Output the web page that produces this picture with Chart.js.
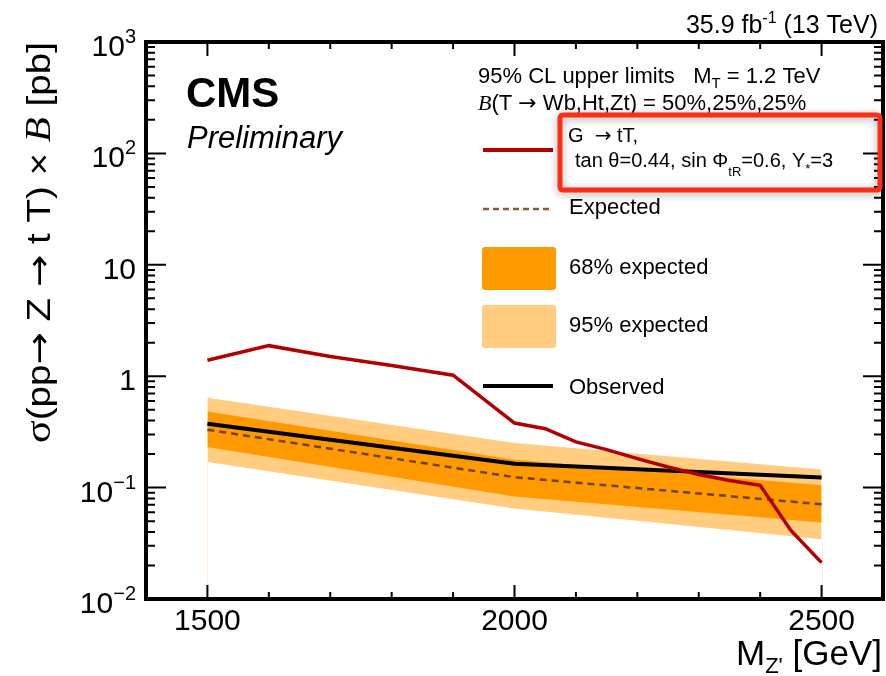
<!DOCTYPE html>
<html>
<head>
<meta charset="utf-8">
<script src="https://cdn.jsdelivr.net/npm/chart.js@4.4.1/dist/chart.umd.min.js"></script>
<style>
  html, body { margin: 0; padding: 0; background: #fff; }
  #wrap { width: 886px; height: 676px; }
</style>
</head>
<body>
<div id="wrap"><canvas id="limitChart"></canvas></div>
<script>
// Z' mass points with limits (pb)
const massPoints = [1500, 2000, 2500];
const observed   = [0.375, 0.164, 0.123];
const expected   = [0.331, 0.124, 0.0708];
const band68Up   = [0.481, 0.178, 0.105];
const band68Down = [0.231, 0.0834, 0.0486];
const band95Up   = [0.642, 0.251, 0.145];
const band95Down = [0.170, 0.065, 0.0344];

// signal cross section for the benchmark model
const theoryMass = [1500, 1600, 1700, 1800, 1900, 2000, 2050, 2100, 2150, 2200, 2250, 2300, 2350, 2400, 2450, 2500];
const theoryXsec = [1.39, 1.88, 1.50, 1.25, 1.02, 0.380, 0.338, 0.257, 0.219, 0.182, 0.153, 0.131, 0.116, 0.105, 0.0413, 0.0212];

const xTickLabels = [1500, 2000, 2500];
const yTickValues = [0.01, 0.1, 1, 10, 100, 1000];
const yTickLabels = [["10", "\u22122"], ["10", "\u22121"], ["1", ""], ["10", ""], ["10", "2"], ["10", "3"]];

const SANS = '"Liberation Sans", Arial, Helvetica, sans-serif';
const SERIF = '"Liberation Serif", "Times New Roman", serif';
const ARROW = '"DejaVu Sans", sans-serif';

const RED = "#b00000";
const ORANGE = "#ff9900";
const LIGHT_ORANGE = "#ffcc80";
const BROWN = "#6b4420";

const toXY = (xs, ys) => xs.map((x, i) => ({ x, y: ys[i] }));
const band = (ys, color, fill, order) => ({
  data: toXY(massPoints, ys),
  borderColor: "transparent",
  borderWidth: 0,
  backgroundColor: color,
  pointRadius: 0,
  fill,
  order,
});

function richWidth(ctx, parts) {
  let w = 0;
  for (const p of parts) {
    ctx.font = p.font;
    w += ctx.measureText(p.text).width;
  }
  return w;
}

// draws a run of differently styled pieces; fitWidth stretches the run to a length
function drawRich(ctx, parts, x, y, align, fitWidth) {
  let w = richWidth(ctx, parts);
  ctx.save();
  ctx.translate(x, y);
  if (fitWidth) {
    ctx.scale(fitWidth / w, 1);
  }
  let cx = align === "right" ? -w : align === "center" ? -w / 2 : 0;
  ctx.textAlign = "left";
  ctx.textBaseline = "alphabetic";
  for (const p of parts) {
    ctx.font = p.font;
    ctx.fillText(p.text, cx, p.dy || 0);
    cx += ctx.measureText(p.text).width;
  }
  ctx.restore();
}

const decor = {
  id: "cmsDecor",
  afterDatasetsDraw(chart) {
    const { ctx, scales: { x, y } } = chart;
    // thin edges of the band polygon down to the axis
    ctx.save();
    ctx.strokeStyle = "rgba(255, 204, 128, 0.35)";
    ctx.lineWidth = 1;
    [0, massPoints.length - 1].forEach((i) => {
      const px = Math.round(x.getPixelForValue(massPoints[i])) + 0.5;
      ctx.beginPath();
      ctx.moveTo(px, y.getPixelForValue(band95Down[i]));
      ctx.lineTo(px, y.bottom);
      ctx.stroke();
    });
    ctx.restore();
  },
  afterDraw(chart) {
    const { ctx, chartArea: a, scales: { x, y } } = chart;
    ctx.save();
    ctx.fillStyle = "#000";
    ctx.strokeStyle = "#000";

    // ticks on all four sides, pointing inwards
    ctx.lineWidth = 2;
    for (let m = 1500; m <= 2500; m += 100) {
      const px = x.getPixelForValue(m);
      const len = m % 500 === 0 ? 14 : 7;
      ctx.beginPath();
      ctx.moveTo(px, a.bottom); ctx.lineTo(px, a.bottom - len);
      ctx.moveTo(px, a.top); ctx.lineTo(px, a.top + len);
      ctx.stroke();
    }
    for (let d = 0.01; d < 1000; d *= 10) {
      for (let k = 1; k <= 9; k++) {
        const py = y.getPixelForValue(d * k);
        const len = k === 1 ? 20 : 9;
        ctx.beginPath();
        ctx.moveTo(a.left, py); ctx.lineTo(a.left + len, py);
        ctx.moveTo(a.right, py); ctx.lineTo(a.right - len, py);
        ctx.stroke();
      }
    }

    // frame
    ctx.lineWidth = 4;
    ctx.strokeRect(a.left, a.top, a.right - a.left, a.bottom - a.top);

    // tick labels
    xTickLabels.forEach((m) => {
      drawRich(ctx, [{ text: String(m), font: `30px ${SANS}` }], x.getPixelForValue(m), 630, "center");
    });
    yTickValues.forEach((v, i) => {
      const [base, exp] = yTickLabels[i];
      const parts = [{ text: base, font: `30px ${SANS}` }];
      if (exp) parts.push({ text: exp, font: `20px ${SANS}`, dy: -13 });
      drawRich(ctx, parts, 136, y.getPixelForValue(v) + 14, "right");
    });

    // axis titles
    drawRich(ctx, [
      { text: "M", font: `35px ${SANS}` },
      { text: "Z'", font: `22px ${SANS}`, dy: 8 },
      { text: " [GeV]", font: `35px ${SANS}` },
    ], 882, 665, "right");

    const yt = `33px ${SANS}`;
    const ya = `33px ${ARROW}`;
    ctx.save();
    ctx.translate(50, 42);
    ctx.rotate(-Math.PI / 2);
    drawRich(ctx, [
      { text: "\u03c3", font: `36px ${SERIF}` },
      { text: "(pp", font: yt },
      { text: "\u2192", font: ya },
      { text: " Z ", font: yt },
      { text: "\u2192", font: ya },
      { text: " t T) \u00d7 ", font: yt },
      { text: "B", font: `italic 35px ${SERIF}` },
      { text: " [pb]", font: yt },
    ], 0, 0, "right", 401);
    ctx.restore();

    // labels inside the frame
    drawRich(ctx, [{ text: "CMS", font: `bold 42px ${SANS}` }], 186, 107, "left");
    drawRich(ctx, [{ text: "Preliminary", font: `italic 31px ${SANS}` }], 187, 148, "left");
    drawRich(ctx, [
      { text: "35.9 fb", font: `25px ${SANS}` },
      { text: "-1", font: `16px ${SANS}`, dy: -10 },
      { text: " (13 TeV)", font: `25px ${SANS}` },
    ], 878, 33, "right");

    // legend
    const lf = `22px ${SANS}`;
    drawRich(ctx, [
      { text: "95% CL upper limits   M", font: lf },
      { text: "T", font: `15px ${SANS}`, dy: 5 },
      { text: " = 1.2 TeV", font: lf },
    ], 478, 83, "left");
    drawRich(ctx, [
      { text: "B", font: `italic 22px ${SERIF}` },
      { text: "(T ", font: lf },
      { text: "\u2192", font: `22px ${ARROW}` },
      { text: " Wb,Ht,Zt) = 50%,25%,25%", font: lf },
    ], 478, 110, "left");

    const legendLine = (py, color, width, dash) => {
      ctx.save();
      ctx.strokeStyle = color;
      ctx.lineWidth = width;
      ctx.setLineDash(dash || []);
      ctx.beginPath();
      ctx.moveTo(483, py); ctx.lineTo(553, py);
      ctx.stroke();
      ctx.restore();
    };
    const legendBox = (py, color) => {
      ctx.save();
      ctx.fillStyle = color;
      ctx.beginPath();
      ctx.roundRect(482, py, 74, 43, 3);
      ctx.fill();
      ctx.restore();
    };

    legendLine(150, RED, 4);
    drawRich(ctx, [
      { text: "G  ", font: `20px ${SANS}` },
      { text: "\u2192", font: `20px ${ARROW}` },
      { text: " tT,", font: `20px ${SANS}` },
    ], 568, 142, "left");
    drawRich(ctx, [
      { text: "tan \u03b8=0.44, sin \u03a6", font: `20px ${SANS}` },
      { text: "tR", font: `13px ${SANS}`, dy: 9 },
      { text: "=0.6, Y", font: `20px ${SANS}` },
      { text: "*", font: `13px ${SANS}`, dy: 6 },
      { text: "=3", font: `20px ${SANS}` },
    ], 575, 167, "left");

    legendLine(209, "#8b5a2b", 2.5, [6, 4]);
    drawRich(ctx, [{ text: "Expected", font: lf }], 569, 214, "left");
    legendBox(247, ORANGE);
    drawRich(ctx, [{ text: "68% expected", font: lf }], 569, 274, "left");
    legendBox(305, LIGHT_ORANGE);
    drawRich(ctx, [{ text: "95% expected", font: lf }], 569, 332, "left");
    legendLine(386, "#000", 4);
    drawRich(ctx, [{ text: "Observed", font: lf }], 569, 394, "left");

    // highlight around the signal entry
    ctx.save();
    ctx.strokeStyle = "#ff2d16";
    ctx.lineWidth = 5;
    ctx.shadowColor = "rgba(0, 0, 0, 0.35)";
    ctx.shadowBlur = 8;
    ctx.shadowOffsetY = 2;
    ctx.beginPath();
    ctx.roundRect(560, 115, 320, 75, 3);
    ctx.stroke();
    ctx.restore();

    ctx.restore();
  },
};

new Chart(document.getElementById("limitChart"), {
  type: "line",
  data: {
    datasets: [
      band(band95Up, LIGHT_ORANGE, "+1", 6),
      band(band95Down, LIGHT_ORANGE, false, 6),
      band(band68Up, ORANGE, "+1", 4),
      band(band68Down, ORANGE, false, 4),
      {
        label: "Expected",
        data: toXY(massPoints, expected),
        borderColor: BROWN,
        borderWidth: 2.5,
        borderDash: [7, 5],
        pointRadius: 0,
        fill: false,
        order: 2,
      },
      {
        label: "Observed",
        data: toXY(massPoints, observed),
        borderColor: "#000",
        borderWidth: 4,
        pointRadius: 0,
        fill: false,
        order: 1,
      },
      {
        label: "Signal",
        data: toXY(theoryMass, theoryXsec),
        borderColor: RED,
        borderWidth: 3.5,
        pointRadius: 0,
        fill: false,
        order: 0,
      },
    ],
  },
  options: {
    responsive: true,
    maintainAspectRatio: false,
    animation: false,
    layout: { padding: { left: 146, right: 3, top: 42, bottom: 77 } },
    scales: {
      x: { type: "linear", min: 1400, max: 2600, display: false },
      y: { type: "logarithmic", min: 0.01, max: 1000, display: false },
    },
    plugins: {
      legend: { display: false },
      tooltip: { enabled: false },
    },
  },
  plugins: [decor],
});
</script>
</body>
</html>
